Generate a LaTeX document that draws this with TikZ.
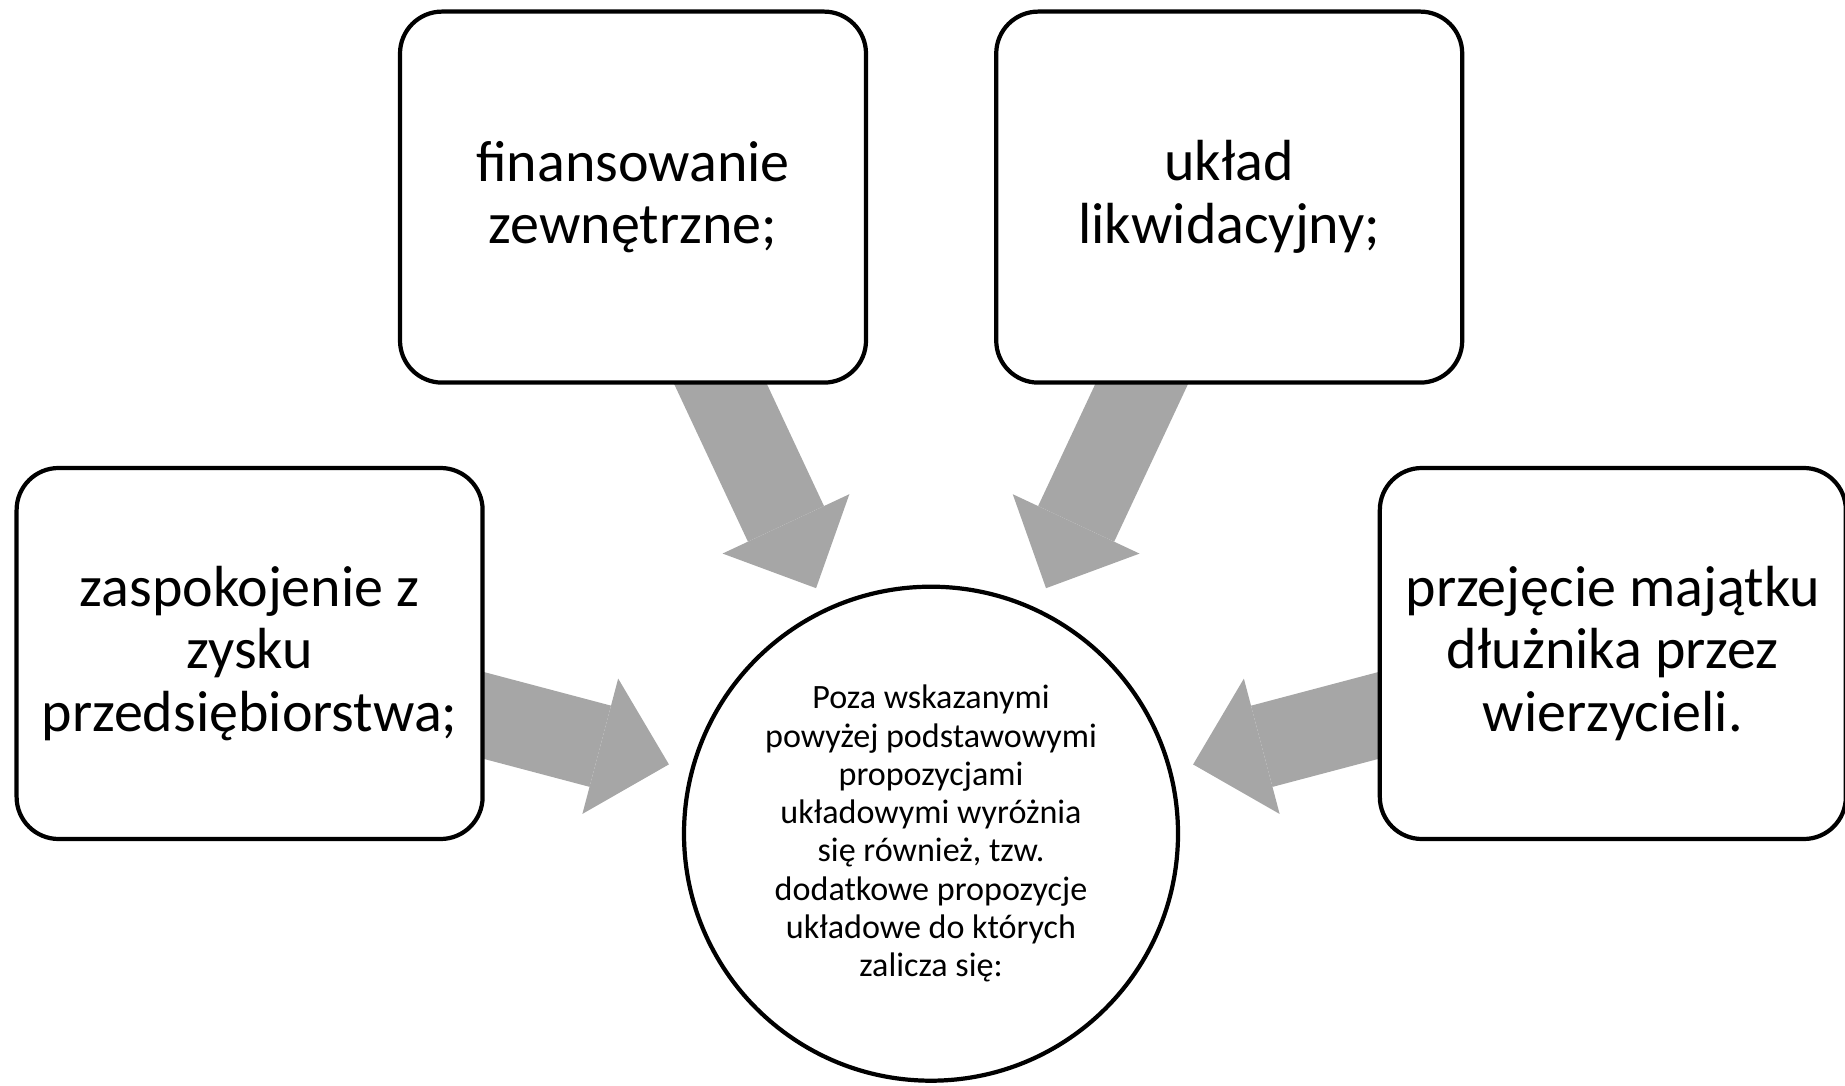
\documentclass[tikz,border=0pt]{standalone}
\usepackage{fontspec}
\setmainfont{Carlito}
\usepackage{tikz}
\usetikzlibrary{arrows.meta,positioning,backgrounds}
\definecolor{arrowgray}{HTML}{A6A6A6}
\tikzset{
  box/.style={
    rounded corners=4.2mm,draw=black,fill=white,
    line width=1.2pt,minimum width=46.6mm,minimum height=37.1mm,
    align=center,font=\fontsize{16.5pt}{17.9pt}\selectfont
  },
  hub/.style={
    circle,draw=black,fill=white,line width=1.2pt,
    minimum size=49.4mm,inner sep=0pt,align=center,
    font=\fontsize{9.7pt}{10.9pt}\selectfont
  },
  blockarrow/.style={
    draw=arrowgray,line width=8.4mm,
    -{Triangle[length=7.1mm,width=14mm,line width=0pt]},
    shorten >=2.2mm
  }
}

\begin{document}
\begin{tikzpicture}
\useasboundingbox (0,0) rectangle (18.45,10.85);
\node[hub] (hub) at (9.31,2.513)
{Poza wskazanymi\\powyżej podstawowymi\\propozycjami\\układowymi wyróżnia\\się również, tzw.\\dodatkowe propozycje\\układowe do których\\zalicza się:};

\node[box] (fin) at (6.33,8.879) {finansowanie\\zewnętrzne;};
\node[box,right=1.26cm of fin] (ukl) {układ\\likwidacyjny;};

\node[box] (zysk) at (2.496,4.315)
{zaspokojenie z\\zysku\\przedsiębiorstwa;};
\node[box,right=8.93cm of zysk] (majatek)
{przejęcie majątku\\dłużnika przez\\wierzycieli.};

\begin{scope}[on background layer]
\draw[blockarrow] (fin.center)--(hub);
\draw[blockarrow] (ukl.center)--(hub);
\draw[blockarrow] (zysk.center)--(hub);
\draw[blockarrow] (majatek.center)--(hub);
\end{scope}
\end{tikzpicture}
\end{document}
